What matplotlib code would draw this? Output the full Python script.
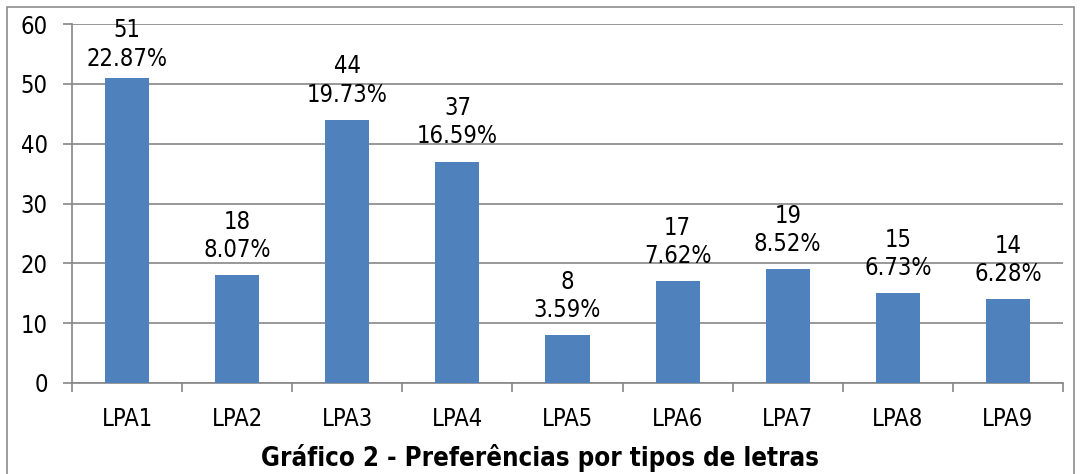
import matplotlib.pyplot as plt
from matplotlib.patches import Rectangle

plt.rcParams["font.family"] = "DejaVu Sans"
plt.rcParams["font.stretch"] = "condensed"

categories = ["LPA1", "LPA2", "LPA3", "LPA4", "LPA5", "LPA6", "LPA7", "LPA8", "LPA9"]
counts = [51, 18, 44, 37, 8, 17, 19, 15, 14]
percents = ["22.87%", "8.07%", "19.73%", "16.59%", "3.59%", "7.62%", "8.52%", "6.73%", "6.28%"]

fig = plt.figure(figsize=(10.81, 4.74), dpi=100)
fig.patches.append(Rectangle((7 / 1081, -0.01), 1067 / 1081, 1 - 7 / 474 + 0.01,
                             transform=fig.transFigure, fill=False,
                             edgecolor="#8c8c8c", linewidth=1.2))
ax = fig.add_axes([72 / 1081, 1 - 383 / 474, (1063 - 72) / 1081, (383 - 24) / 474])

x = range(len(categories))
ax.bar(x, counts, width=0.4, color="#4F81BD", zorder=3)

# labels sit above the bar, the tallest one is pushed down to stay in the chart
for i, (c, p) in enumerate(zip(counts, percents)):
    ax.text(i, min(c + 2.2, 52.2), f"{c}\n{p}", ha="center", va="bottom", fontsize=17,
            linespacing=1.22, zorder=4)

ax.set_xlim(-0.5, len(categories) - 0.5)
ax.set_ylim(0, 60)
ax.set_yticks(range(0, 61, 10))
ax.yaxis.grid(True, color="#868686", linewidth=1.2, zorder=0)
ax.set_xticks(list(x))
ax.set_xticklabels(categories, fontsize=17)
ax.set_xticks([i - 0.5 for i in range(len(categories) + 1)], minor=True)
ax.tick_params(axis="x", which="major", length=0, pad=17)
ax.tick_params(axis="x", which="minor", length=6.5, color="#868686", width=1.2)
ax.tick_params(axis="y", length=6.5, color="#868686", width=1.2, labelsize=17, pad=11)

for side in ["top", "right"]:
    ax.spines[side].set_visible(False)
for side in ["left", "bottom"]:
    ax.spines[side].set_color("#868686")
    ax.spines[side].set_linewidth(1.2)

fig.text(540 / 1081, 2 / 474, "Gráfico 2 - Preferências por tipos de letras", ha="center",
         va="bottom", fontsize=18.5, fontweight="bold")

fig.savefig("out.png", dpi=100)
